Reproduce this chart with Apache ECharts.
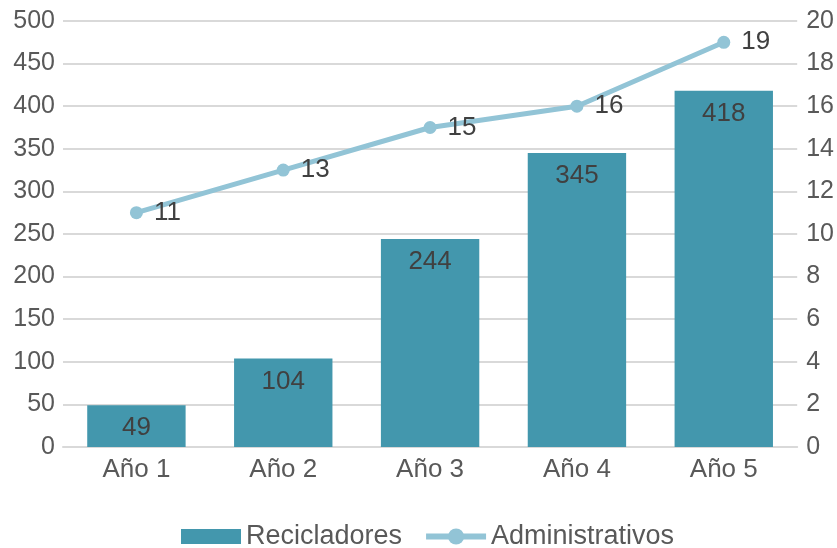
<!DOCTYPE html>
<html>
<head>
<meta charset="utf-8">
<script src="https://cdn.jsdelivr.net/npm/echarts@6/dist/echarts.min.js"></script>
<style>
  html, body { margin: 0; padding: 0; background: #fff; }
  #chart { width: 837px; height: 548px; }
</style>
</head>
<body>
<div id="chart"></div>
<script>
// datos del gráfico
var categorias = ['Año 1', 'Año 2', 'Año 3', 'Año 4', 'Año 5'];
var recicladores = [49, 104, 244, 345, 418];
var administrativos = [11, 13, 15, 16, 19];

var chart = echarts.init(document.getElementById('chart'));
var fuente = 'Liberation Sans, Arial, sans-serif';

var option = {
  animation: false,
  textStyle: { fontFamily: fuente },
  grid: { left: 63, right: 39, top: 21, bottom: 101, containLabel: false },
  legend: {
    top: 518,
    left: 176,
    itemGap: 21,
    itemWidth: 60,
    itemHeight: 20,
    textStyle: { fontSize: 27, color: '#595959', fontFamily: fuente },
    data: [
      // rectángulo de 60x15 dentro de la caja de 60x20
      { name: 'Recicladores', icon: 'path://M0,0M60,20M0,2.5L60,2.5L60,17.5L0,17.5Z' },
      { name: 'Administrativos', lineStyle: { width: 6 } }
    ]
  },
  xAxis: {
    type: 'category',
    data: categorias,
    axisTick: { show: false },
    axisLine: { lineStyle: { color: '#d9d9d9', width: 2 } },
    axisLabel: { fontSize: 26, color: '#595959', margin: 10 }
  },
  yAxis: [
    {
      type: 'value', min: 0, max: 500, interval: 50,
      axisLabel: { fontSize: 25, color: '#595959', margin: 8 },
      splitLine: { lineStyle: { color: '#d9d9d9', width: 2 } },
      axisLine: { show: false }, axisTick: { show: false }
    },
    {
      type: 'value', min: 0, max: 20, interval: 2,
      axisLabel: { fontSize: 25, color: '#595959', margin: 9 },
      splitLine: { show: false },
      axisLine: { show: false }, axisTick: { show: false }
    }
  ],
  series: [
    {
      name: 'Recicladores',
      type: 'bar',
      data: recicladores,
      barWidth: '67%',
      itemStyle: { color: '#4397ad' },
      label: {
        show: true, position: 'insideTop', distance: 10,
        fontSize: 26, color: '#404040', fontFamily: fuente
      }
    },
    {
      name: 'Administrativos',
      type: 'line',
      yAxisIndex: 1,
      data: administrativos,
      symbol: 'circle',
      symbolSize: 13,
      lineStyle: { color: '#92c4d6', width: 5 },
      itemStyle: { color: '#92c4d6' },
      label: {
        show: true, position: 'right', distance: 11,
        fontSize: 26, color: '#404040', fontFamily: fuente
      }
    }
  ]
};

chart.setOption(option);
</script>
</body>
</html>
